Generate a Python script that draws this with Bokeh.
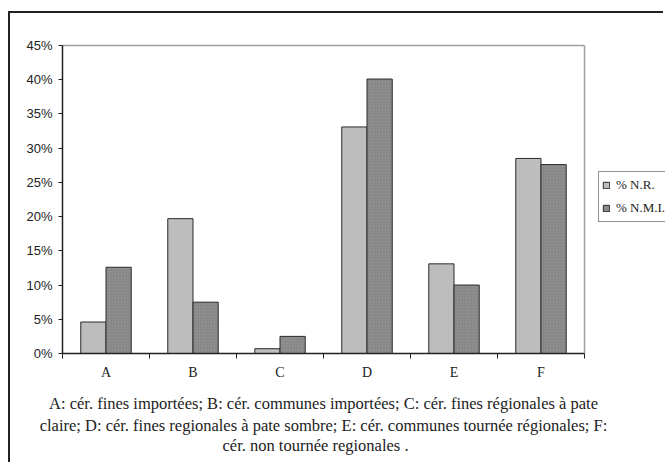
from bokeh.plotting import figure
from bokeh.models import (Range1d, FixedTicker, NumeralTickFormatter, Legend,
                          LegendItem, Label)
from bokeh.embed import file_html
from bokeh.resources import INLINE

# ---- data ----
categories = ["A", "B", "C", "D", "E", "F"]
pct_nr = [4.6, 19.7, 0.7, 33.1, 13.1, 28.5]
pct_nmi = [12.6, 7.5, 2.5, 40.1, 10.0, 27.6]
y_ticks_pct = [0, 5, 10, 15, 20, 25, 30, 35, 40, 45]
series_labels = ["% N.R.", "% N.M.I."]
caption_lines = [
    "A: cér. fines importées; B: cér. communes importées; C: cér. fines régionales à pate",
    "claire; D: cér. fines regionales à pate sombre; E: cér. communes tournée régionales; F:",
    "cér. non tournée regionales .",
]

# ---- layout (canvas pixels) ----
W, H = 655, 451
PL, PT, PR, PB = 52, 32, 574, 340   # left, top, right, bottom of the plotting area
YMAX = y_ticks_pct[-1] / 100
n = len(categories)
pxu_y = (PB - PT) / YMAX          # px per y unit
pxu_x = (PR - PL) / n             # px per category
x_start = -PL / pxu_x
x_end = (W - PL) / pxu_x
y_start = -(H - PB) / pxu_y
y_end = YMAX + PT / pxu_y

SERIF = "Liberation Serif"
SANS = "Liberation Sans"

p = figure(width=W, height=H, output_backend="svg", toolbar_location=None,
           x_range=Range1d(x_start, x_end), y_range=Range1d(y_start, y_end),
           min_border_left=0, min_border_right=0,
           min_border_top=0, min_border_bottom=0)
p.margin = (11, 0, 0, 8)
p.styles = {"border-top": "2px solid #222", "border-left": "2px solid #222"}
p.background_fill_color = "white"
p.border_fill_color = "white"
p.xgrid.visible = False
p.ygrid.visible = False
p.outline_line_color = None

# plot-area top and right edges
p.segment(x0=[0, n], y0=[YMAX, 0], x1=[n, n], y1=[YMAX, YMAX],
          line_color="#a0a0a0", line_width=1.5)

centers = [i + 0.5 for i in range(n)]
bw = 0.29
x_nr = [c - bw / 2 for c in centers]
x_nmi = [c + bw / 2 for c in centers]
r1 = p.vbar(x=x_nr, top=[v / 100 for v in pct_nr], width=bw, bottom=0,
            fill_color="#bdbdbd", line_color="#2a2a2a", line_width=1)
r2 = p.vbar(x=x_nmi, top=[v / 100 for v in pct_nmi], width=bw, bottom=0,
            fill_color="#8e8e8e", line_color="#2a2a2a", line_width=1,
            hatch_pattern="dot", hatch_color="#6e6e6e", hatch_scale=3,
            hatch_alpha=0.6)

# y axis, drawn at x = 0
ya = p.yaxis[0]
ya.fixed_location = 0
ya.bounds = (0, YMAX)
ya.ticker = FixedTicker(ticks=[t / 100 for t in y_ticks_pct])
ya.formatter = NumeralTickFormatter(format="0%")
ya.major_tick_out = 4
ya.major_tick_in = 0
ya.minor_tick_line_color = None
ya.axis_line_color = "#222"
ya.axis_line_width = 1.5
ya.major_tick_line_color = "#222"
ya.major_label_standoff = 6
ya.major_label_text_font = SANS
ya.major_label_text_font_size = "13px"
ya.major_label_text_color = "#222"

# x axis, drawn at y = 0
xa = p.xaxis[0]
xa.fixed_location = 0
xa.bounds = (0, n)
xa.ticker = FixedTicker(ticks=centers, minor_ticks=list(range(n + 1)))
xa.major_label_overrides = {c: cat for c, cat in zip(centers, categories)}
xa.major_tick_line_color = None
xa.major_tick_out = 0
xa.major_tick_in = 0
xa.minor_tick_out = 5
xa.minor_tick_in = 0
xa.minor_tick_line_color = "#222"
xa.axis_line_color = "#222"
xa.axis_line_width = 1.5
xa.major_label_standoff = 6
xa.major_label_text_font = SERIF
xa.major_label_text_font_size = "14px"
xa.major_label_text_color = "#222"

# legend
legend = Legend(items=[LegendItem(label=series_labels[0], renderers=[r1]),
                       LegendItem(label=series_labels[1], renderers=[r2])],
                location=(PR + 14, H - 222 + 13))
legend.glyph_width = 8
legend.glyph_height = 8
legend.label_height = 20
legend.label_text_font = SERIF
legend.label_text_font_size = "13px"
legend.label_text_color = "#222"
legend.border_line_color = "#222"
legend.border_line_width = 1.5
legend.padding = 3
legend.spacing = 3
legend.label_standoff = 6
legend.margin = 0
legend.background_fill_color = "white"
p.add_layout(legend)

# caption
offsets_px = [50, 72, 92]
shifts_px = [0, 0, -8]
for line, off, sh in zip(caption_lines, offsets_px, shifts_px):
    p.add_layout(Label(x=n / 2, y=-off / pxu_y, x_offset=sh, text=line,
                       text_align="center", text_baseline="middle",
                       text_font=SERIF, text_font_size="16.5px",
                       text_color="#222"))

open("out.html", "w").write(file_html(p, INLINE))
